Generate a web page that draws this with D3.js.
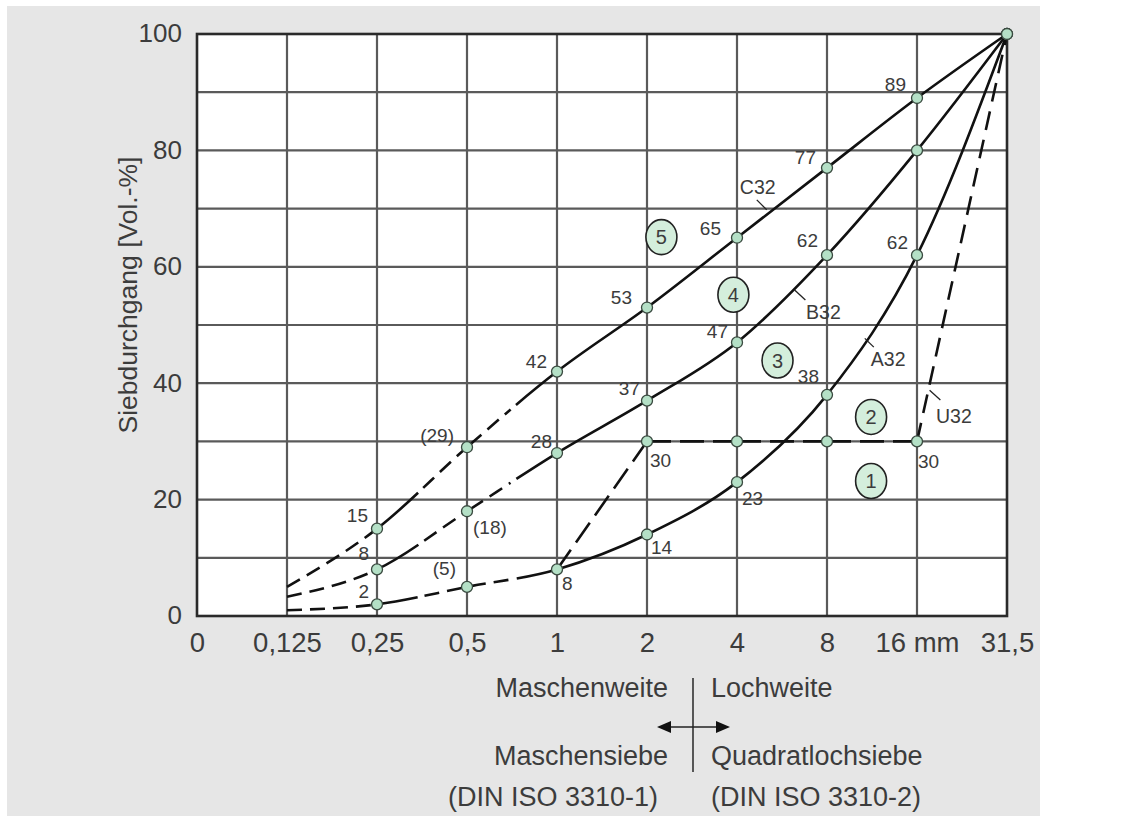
<!DOCTYPE html>
<html>
<head>
<meta charset="utf-8">
<script src="https://cdn.jsdelivr.net/npm/d3@7/dist/d3.min.js"></script>
<style>
  html, body { margin: 0; padding: 0; background: #fff; }
  svg { display: block; font-family: "Liberation Sans", Arial, sans-serif; }
</style>
</head>
<body>
<div id="chart"></div>
<script>
// sieve sizes (equal spacing on the x axis)
var sieveLabels = ["0", "0,125", "0,25", "0,5", "1", "2", "4", "8", "16 mm", "31,5"];
var yTicks = [0, 20, 40, 60, 80, 100];

// passing fraction in Vol.-% per sieve (null = no value)
var c32 = [null, 5, 15, 29, 42, 53, 65, 77, 89, 100];
var b32 = [null, 3.3, 8, 18, 28, 37, 47, 62, 80, 100];
var a32 = [null, 1, 2, 5, 8, 14, 23, 38, 62, 100];
var u32 = [null, null, null, null, 8, 30, 30, 30, 30, 100];

// values that are only estimated are shown in brackets
var uncertain = [3];

// zones 1..5 between the curves: [sieve index, Vol.-%]
var zones = [
  { name: "1", x: 7.49, y: 23.2 },
  { name: "2", x: 7.49, y: 34.2 },
  { name: "3", x: 6.45, y: 43.9 },
  { name: "4", x: 5.96, y: 55.2 },
  { name: "5", x: 5.16, y: 65.1 }
];

var W = 1139, H = 821;
var x = d3.scaleLinear().domain([0, 9]).range([197, 1007]);
var y = d3.scaleLinear().domain([0, 100]).range([616, 34]);

var svg = d3.select("#chart").append("svg")
    .attr("width", W)
    .attr("height", H);

svg.append("rect")
    .attr("x", 7).attr("y", 6)
    .attr("width", 1033).attr("height", 810)
    .style("fill", "#e6e6e6");

svg.append("rect")
    .attr("x", x(0)).attr("y", y(100))
    .attr("width", x(9) - x(0)).attr("height", y(0) - y(100))
    .style("fill", "#fff");

// grid
var grid = svg.append("g");
grid.selectAll("line.h")
    .data(d3.range(10, 100, 10))
    .enter().append("line")
    .attr("x1", x(0)).attr("x2", x(9))
    .attr("y1", function(d) { return y(d); })
    .attr("y2", function(d) { return y(d); })
    .style("stroke", "#5a5a5a").style("stroke-width", 2.2);
grid.selectAll("line.v")
    .data(d3.range(1, 9))
    .enter().append("line")
    .attr("x1", function(d) { return x(d); })
    .attr("x2", function(d) { return x(d); })
    .attr("y1", y(100)).attr("y2", y(0))
    .style("stroke", "#5a5a5a").style("stroke-width", 2.2);

svg.append("rect")
    .attr("x", x(0)).attr("y", y(100))
    .attr("width", x(9) - x(0)).attr("height", y(0) - y(100))
    .style("fill", "none").style("stroke", "#2a2a2a").style("stroke-width", 2.6);

// axes
var textColor = "#3c3c3c";
var yAxis = svg.append("g")
    .attr("transform", "translate(" + (x(0) - 15) + ",0)")
    .call(d3.axisLeft(y).tickValues(yTicks).tickSize(0).tickPadding(0));
var xAxis = svg.append("g")
    .attr("transform", "translate(0," + (y(0) + 15) + ")")
    .call(d3.axisBottom(x).tickValues(d3.range(10)).tickSize(0).tickPadding(0)
        .tickFormat(function(d) { return sieveLabels[d]; }));
[yAxis, xAxis].forEach(function(a) {
    a.select(".domain").remove();
    a.selectAll("text")
        .style("font-family", "'Liberation Sans', Arial, sans-serif")
        .style("font-size", "26px")
        .style("fill", textColor);
});
xAxis.selectAll("text").style("font-size", "27.5px");
yAxis.selectAll("text").attr("dy", "0.3em");
xAxis.selectAll("text").attr("dy", "0.75em");

svg.append("text")
    .attr("transform", "translate(137,295) rotate(-90)")
    .attr("text-anchor", "middle")
    .style("font-size", "26.5px")
    .style("fill", textColor)
    .text("Siebdurchgang [Vol.-%]");

// curves
var series = [
  { name: "C32", values: c32, curve: d3.curveMonotoneX,
    segs: ["", "dash", "solid-dash", "dash-solid", "solid", "solid", "solid", "solid", "solid"] },
  { name: "B32", values: b32, curve: d3.curveMonotoneX,
    segs: ["", "dash", "solid-dash", "dash-solid", "solid", "solid", "solid", "solid", "solid"] },
  { name: "A32", values: a32, curve: d3.curveMonotoneX,
    segs: ["", "dash", "solid-dash", "dash-solid", "solid", "solid", "solid", "solid", "solid"] },
  { name: "U32", values: u32, curve: d3.curveLinear,
    segs: ["", "", "", "", "longdash", "longdash", "longdash", "longdash", "udash"] }
];

var dashSpec = {
  dash: [15, 8],
  longdash: [24, 9],
  udash: [19, 10]
};

function dashIntervals(a, b, pat, out) {
  var p = a, k = 0;
  while (p < b) {
    var len = pat[k % 2];
    if (k % 2 === 0) out.push([p, Math.min(b, p + len)]);
    p += len; k++;
  }
}

series.forEach(function(s) {
  var idx = d3.range(10).filter(function(i) { return s.values[i] !== null; });
  var line = d3.line()
      .x(function(i) { return x(i); })
      .y(function(i) { return y(s.values[i]); })
      .curve(s.curve);
  var path = svg.append("path")
      .attr("d", line(idx))
      .style("fill", "none")
      .style("stroke", "#111")
      .style("stroke-width", 2.6);
  var node = path.node();
  var total = node.getTotalLength();

  // path length at every data point
  var lens = {};
  idx.forEach(function(i) {
    var tx = x(i), lo = 0, hi = total;
    for (var n = 0; n < 30; n++) {
      var mid = (lo + hi) / 2;
      if (node.getPointAtLength(mid).x < tx) lo = mid; else hi = mid;
    }
    lens[i] = (lo + hi) / 2;
  });
  lens[idx[0]] = 0;
  lens[idx[idx.length - 1]] = total;

  var on = [];
  for (var j = 0; j < idx.length - 1; j++) {
    var i = idx[j], a = lens[i], b = lens[idx[j + 1]];
    var st = s.segs[i];
    if (st === "solid") on.push([a, b]);
    else if (st === "solid-dash") {
      var m = a + (b - a) * 0.45;
      on.push([a, m]);
      dashIntervals(m + 7, b, dashSpec.dash, on);
    } else if (st === "dash-solid") {
      var m2 = a + (b - a) * 0.55;
      dashIntervals(a + 4, m2 - 7, dashSpec.dash, on);
      on.push([m2, b]);
    } else {
      dashIntervals(a, b, dashSpec[st], on);
    }
  }
  var arr = [], cursor = 0;
  on.forEach(function(iv, k) {
    if (k === 0) { if (iv[0] > 0) arr.push(0, iv[0]); }
    else arr.push(Math.max(0, iv[0] - cursor));
    arr.push(iv[1] - iv[0]);
    cursor = iv[1];
  });
  arr.push(total + 10);
  path.style("stroke-dasharray", arr.join(","));
});

// points
var points = [];
[c32, b32, a32].forEach(function(v) {
  for (var i = 2; i < 10; i++) points.push([i, v[i]]);
});
[5, 6, 7, 8].forEach(function(i) { points.push([i, u32[i]]); });

svg.selectAll("circle.pt")
    .data(points)
    .enter().append("circle")
    .attr("cx", function(d) { return x(d[0]); })
    .attr("cy", function(d) { return y(d[1]); })
    .attr("r", 5.5)
    .style("fill", "#b4e0c6")
    .style("stroke", "#3a4a40")
    .style("stroke-width", 1.3);

// value labels: [values, index, dx, dy, anchor]
var valueLabels = [
  [c32, 2, -9, -13, "end"], [c32, 3, -13, -12, "end"], [c32, 4, -10, -10, "end"],
  [c32, 5, -15, -10, "end"], [c32, 6, -16, -9, "end"], [c32, 7, -11, -11, "end"],
  [c32, 8, -11, -14, "end"],
  [b32, 2, -8, -16, "end"], [b32, 3, 6, 16, "start"], [b32, 4, -5, -12, "end"],
  [b32, 5, -7, -12, "end"], [b32, 6, -9, -11, "end"], [b32, 7, -9, -15, "end"],
  [a32, 2, -8, -13, "end"], [a32, 3, -11, -19, "end"], [a32, 4, 5, 14, "start"],
  [a32, 5, 4, 13, "start"], [a32, 6, 5, 16, "start"], [a32, 7, -8, -18, "end"],
  [a32, 8, -9, -13, "end"],
  [u32, 5, 3, 19, "start"], [u32, 8, 1, 20, "start"]
];
svg.selectAll("text.val")
    .data(valueLabels)
    .enter().append("text")
    .attr("x", function(d) { return x(d[1]) + d[2]; })
    .attr("y", function(d) { return y(d[0][d[1]]) + d[3]; })
    .attr("dy", "0.35em")
    .attr("text-anchor", function(d) { return d[4]; })
    .style("font-size", "19px")
    .style("fill", textColor)
    .text(function(d) {
      var v = d[0][d[1]];
      return uncertain.indexOf(d[1]) >= 0 ? "(" + v + ")" : v;
    });

// curve names with leader lines: [name, text x idx, text y %, leader from, leader to]
var nameLabels = [
  ["C32", 6.23, 73.7, [6.22, 71.5], [6.33, 69.8]],
  ["B32", 6.96, 52.2, [6.64, 56.0], [6.76, 54.3]],
  ["A32", 7.68, 44.1, [7.42, 47.7], [7.52, 46.2]],
  ["U32", 8.41, 34.4, [8.14, 38.8], [8.26, 37.1]]
];
svg.selectAll("line.lead")
    .data(nameLabels)
    .enter().append("line")
    .attr("x1", function(d) { return x(d[3][0]); })
    .attr("y1", function(d) { return y(d[3][1]); })
    .attr("x2", function(d) { return x(d[4][0]); })
    .attr("y2", function(d) { return y(d[4][1]); })
    .style("stroke", "#222").style("stroke-width", 1.3);
svg.selectAll("text.name")
    .data(nameLabels)
    .enter().append("text")
    .attr("x", function(d) { return x(d[1]); })
    .attr("y", function(d) { return y(d[2]); })
    .attr("dy", "0.35em")
    .attr("text-anchor", "middle")
    .style("font-size", "19.5px")
    .style("fill", textColor)
    .text(function(d) { return d[0]; });

// zone markers
var zg = svg.selectAll("g.zone")
    .data(zones)
    .enter().append("g")
    .attr("transform", function(d) { return "translate(" + x(d.x) + "," + y(d.y) + ")"; });
zg.append("ellipse")
    .attr("rx", 15.5).attr("ry", 17.5)
    .style("fill", "#d4eedc")
    .style("stroke", "#222")
    .style("stroke-width", 1.6);
zg.append("text")
    .attr("dy", "0.36em")
    .attr("text-anchor", "middle")
    .style("font-size", "20px")
    .style("fill", textColor)
    .text(function(d) { return d.name; });

// bottom explanation
var bx = 693;
var notes = [
  ["Maschenweite", "Lochweite", 688, 0],
  ["Maschensiebe", "Quadratlochsiebe", 756, 0],
  ["(DIN ISO 3310-1)", "(DIN ISO 3310-2)", 797, 10]
];
notes.forEach(function(n) {
  svg.append("text").attr("x", bx - 25 - n[3]).attr("y", n[2]).attr("dy", "0.35em")
      .attr("text-anchor", "end")
      .style("font-size", "27px").style("fill", textColor).text(n[0]);
  svg.append("text").attr("x", bx + 18).attr("y", n[2]).attr("dy", "0.35em")
      .attr("text-anchor", "start")
      .style("font-size", "27px").style("fill", textColor).text(n[1]);
});
svg.append("line")
    .attr("x1", bx).attr("x2", bx).attr("y1", 678).attr("y2", 772)
    .style("stroke", "#333").style("stroke-width", 1.6);
svg.append("line")
    .attr("x1", bx - 25).attr("x2", bx + 26).attr("y1", 727).attr("y2", 727)
    .style("stroke", "#222").style("stroke-width", 1.6);
svg.append("path")
    .attr("d", "M" + (bx - 36) + ",727 L" + (bx - 22) + ",721 L" + (bx - 22) + ",733 Z")
    .style("fill", "#111");
svg.append("path")
    .attr("d", "M" + (bx + 37) + ",727 L" + (bx + 23) + ",721 L" + (bx + 23) + ",733 Z")
    .style("fill", "#111");
</script>
</body>
</html>
